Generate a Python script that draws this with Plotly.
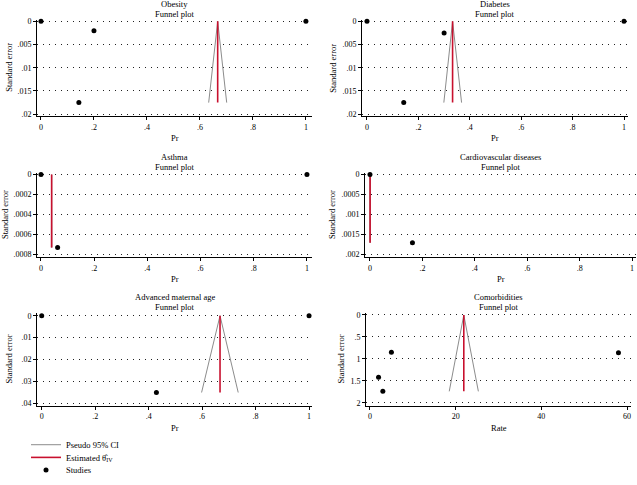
import plotly.graph_objects as go

# panel titles and axis labels
titles = ["Obesity", "Diabetes", "Asthma", "Cardiovascular diseases",
          "Advanced maternal age", "Comorbidities"]
x_titles = ["Pr", "Pr", "Pr", "Pr", "Pr", "Rate"]

# studies (effect, standard error)
obesity_x = [0, 0.2, 0.143, 1]
obesity_se = [0, 0.002, 0.0175, 0]
diabetes_x = [0, 0.3, 0.143, 1]
diabetes_se = [0, 0.0025, 0.0175, 0]
asthma_x = [0, 0.0625, 1]
asthma_se = [0, 0.00073, 0]
cvd_x = [0, 0.162]
cvd_se = [0, 0.0017]
ama_x = [0, 0.429, 1]
ama_se = [0, 0.035, 0]
comorb_x = [2, 3, 5, 58]
comorb_se = [1.42, 1.74, 0.85, 0.86]

study_x = [obesity_x, diabetes_x, asthma_x, cvd_x, ama_x, comorb_x]
study_se = [obesity_se, diabetes_se, asthma_se, cvd_se, ama_se, comorb_se]

# pooled estimate, pseudo 95% CI at the bottom of the funnel, max se
theta = [0.667, 0.333, 0.04, 0.0005, 0.667, 21.9]
ci_low = [0.633, 0.299, 0.039, 0.0, 0.598, 18.5]
ci_high = [0.701, 0.368, 0.041, 0.001, 0.735, 25.3]
se_max = [0.0175, 0.0175, 0.00073, 0.0017, 0.035, 1.74]

# ticks
x_ticks = [[0, 0.2, 0.4, 0.6, 0.8, 1]] * 5 + [[0, 20, 40, 60]]
x_ticktext = [["0", ".2", ".4", ".6", ".8", "1"]] * 5 + [["0", "20", "40", "60"]]
y_ticks = [
    [0, 0.005, 0.01, 0.015, 0.02],
    [0, 0.005, 0.01, 0.015, 0.02],
    [0, 0.0002, 0.0004, 0.0006, 0.0008],
    [0, 0.0005, 0.001, 0.0015, 0.002],
    [0, 0.01, 0.02, 0.03, 0.04],
    [0, 0.5, 1, 1.5, 2],
]
y_ticktext = [
    ["0", ".005", ".01", ".015", ".02"],
    ["0", ".005", ".01", ".015", ".02"],
    ["0", ".0002", ".0004", ".0006", ".0008"],
    ["0", ".0005", ".001", ".0015", ".002"],
    ["0", ".01", ".02", ".03", ".04"],
    ["0", ".5", "1", "1.5", "2"],
]

# layout of the panels (pixels in a 637x485 page)
W, H = 637, 485
px_left = [37, 362, 37, 365, 37, 366]
px_right = [312, 628, 312, 636, 312, 631]
px_top = [20, 20, 177, 177, 321, 321]
px_bottom = [119, 119, 264, 264, 416, 416]
x_ranges = [[-0.015, 1.023], [-0.0194, 1.0155], [-0.015, 1.019],
            [-0.019, 1.015], [-0.0176, 1.011], [-0.93, 60.93]]
y_ranges = [[0.0204, -0.0004], [0.0204, -0.0004], [0.000829, -0.00002],
            [0.00207, -0.00005], [0.04102, -0.0012], [2.067, -0.044]]
ytitle_shift = [-28, -29, -32, -33, -28, -25]

FONT = "Liberation Serif"
GRAY = "#8c8c8c"
RED = "#c8102e"

fig = go.Figure()
annotations = []

for i in range(6):
    n = "" if i == 0 else str(i + 1)
    xa, ya = "x" + n, "y" + n
    first = i == 0

    fig.add_trace(go.Scatter(
        x=[ci_low[i], theta[i], ci_high[i]], y=[se_max[i], 0, se_max[i]],
        mode="lines", line=dict(color=GRAY, width=1),
        name="Pseudo 95% CI", showlegend=first, legend="legend",
        xaxis=xa, yaxis=ya))
    fig.add_trace(go.Scatter(
        x=[theta[i], theta[i]], y=[0, se_max[i]],
        mode="lines", line=dict(color=RED, width=1.6),
        name="Estimated θ\u0302<sub>IV</sub>", showlegend=first, legend="legend2",
        xaxis=xa, yaxis=ya))
    fig.add_trace(go.Scatter(
        x=study_x[i], y=study_se[i], mode="markers",
        marker=dict(color="black", size=5),
        name="Studies", showlegend=first, legend="legend3",
        xaxis=xa, yaxis=ya, cliponaxis=False))

    fig.update_layout({
        "xaxis" + n: dict(
            domain=[px_left[i] / W, px_right[i] / W], anchor=ya,
            range=x_ranges[i], tickvals=x_ticks[i], ticktext=x_ticktext[i],
            showline=True, linecolor="black", linewidth=1, mirror=False,
            ticks="outside", ticklen=3, tickcolor="black",
            showgrid=False, zeroline=False, automargin=False,
            tickfont=dict(family=FONT, size=8, color="black")),
        "yaxis" + n: dict(
            domain=[1 - px_bottom[i] / H, 1 - px_top[i] / H], anchor=xa,
            range=y_ranges[i], tickvals=y_ticks[i], ticktext=y_ticktext[i],
            showline=True, linecolor="black", linewidth=1,
            ticks="outside", ticklen=3, tickcolor="black",
            showgrid=True, gridcolor="#222222", gridwidth=1.2, griddash="1px,5px",
            zeroline=False, tickangle=0, automargin=False,
            tickfont=dict(family=FONT, size=8, color="black")),
    })

    dom_x, dom_y = xa + " domain", ya + " domain"
    annotations += [
        dict(text=titles[i], xref=dom_x, yref=dom_y, x=0.5, y=1, yshift=16,
             xanchor="center", yanchor="middle", showarrow=False,
             font=dict(family=FONT, size=8.5, color="black")),
        dict(text="Funnel plot", xref=dom_x, yref=dom_y, x=0.5, y=1, yshift=6,
             xanchor="center", yanchor="middle", showarrow=False,
             font=dict(family=FONT, size=8.5, color="black")),
        dict(text=x_titles[i], xref=dom_x, yref=dom_y, x=0.5, y=0, yshift=-22,
             xanchor="center", yanchor="middle", showarrow=False,
             font=dict(family=FONT, size=8.5, color="black")),
        dict(text="Standard error", xref=dom_x, yref=dom_y, x=0, y=0.5,
             xshift=ytitle_shift[i], textangle=-90,
             xanchor="center", yanchor="middle", showarrow=False,
             font=dict(family=FONT, size=8.5, color="black")),
    ]

legend_style = dict(xanchor="left", yanchor="middle", x=26 / W,
                    font=dict(family=FONT, size=8.5, color="black"),
                    itemwidth=30, bgcolor="rgba(0,0,0,0)",
                    borderwidth=0)

fig.update_layout(
    width=W, height=H,
    margin=dict(l=0, r=0, t=0, b=0),
    paper_bgcolor="white", plot_bgcolor="white",
    annotations=annotations,
    legend=dict(legend_style, y=1 - 456 / H),
    legend2=dict(legend_style, y=1 - 469 / H),
    legend3=dict(legend_style, y=1 - 482 / H),
)

# page body has a default 8px margin; drop it so the figure sits at 0,0
fig.write_html("out.html", config={"displayModeBar": False},
               post_script="document.body.style.margin='0';")
